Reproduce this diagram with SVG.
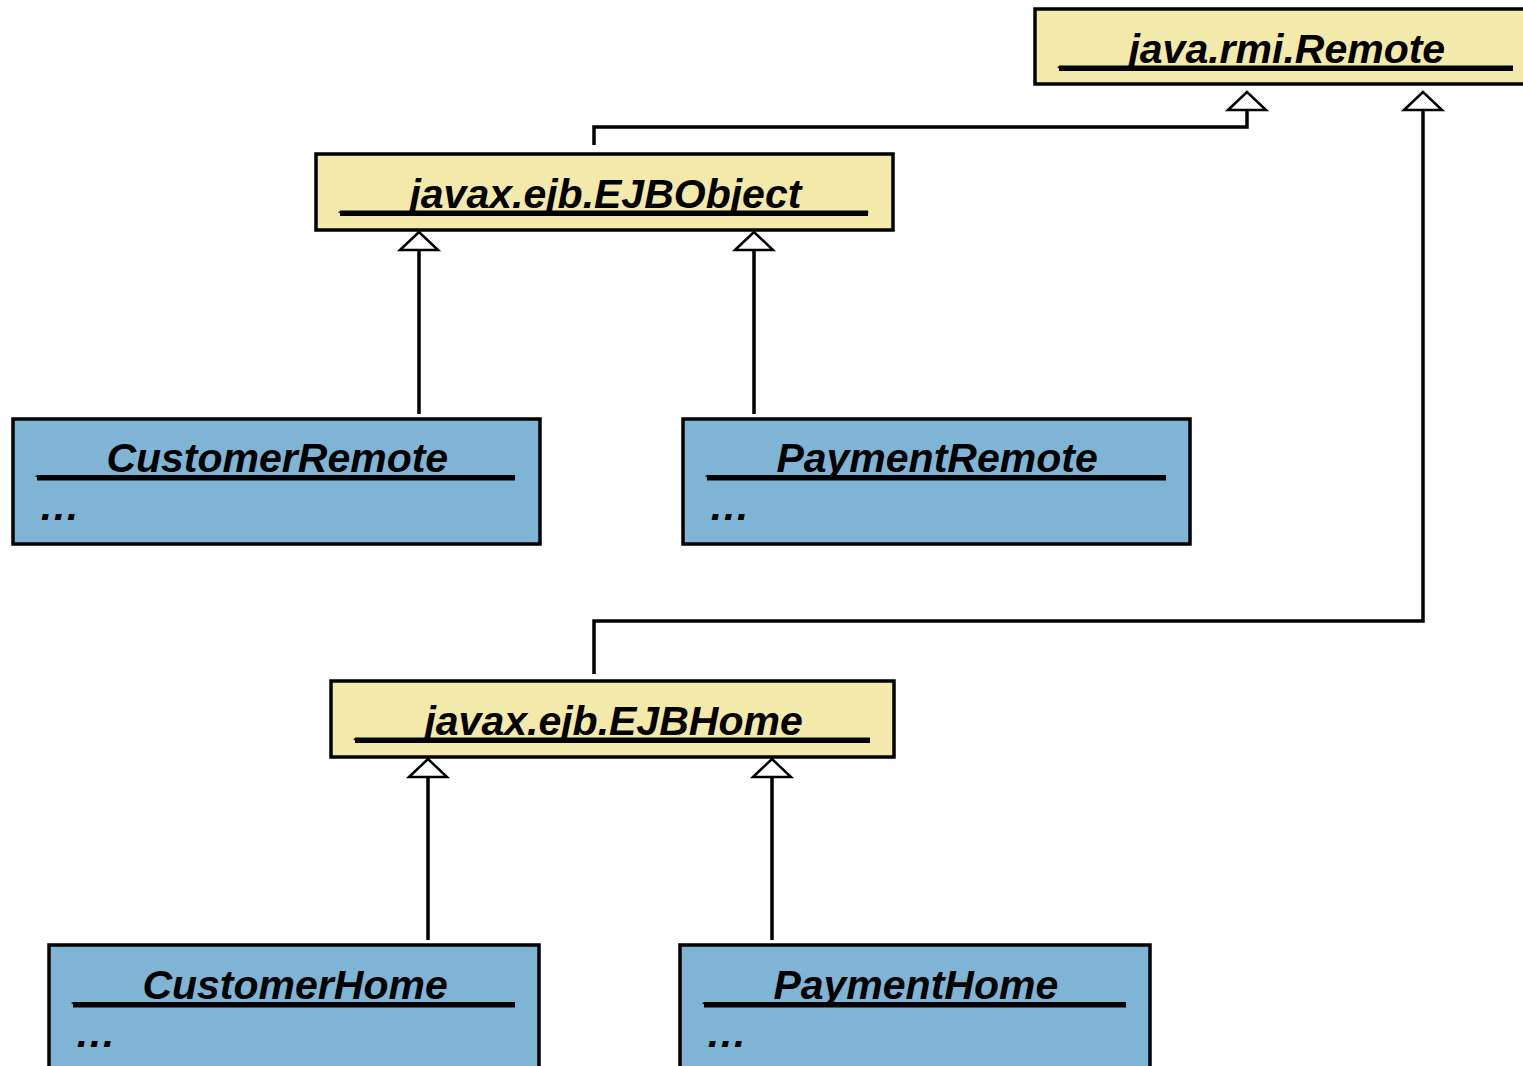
<svg xmlns="http://www.w3.org/2000/svg" width="1523" height="1066" viewBox="0 0 1523 1066">
<defs>
<style>
.box{stroke:#000;stroke-width:3.5}
.iface{fill:#F3E9AB}
.cls{fill:#80B4D4}
.t{font-family:"Liberation Sans",Arial,sans-serif;font-size:41px;font-weight:bold;font-style:italic;fill:#000}
.ul{fill:#000}
.c{fill:none;stroke:#000;stroke-width:3.5}
</style>
<marker id="inh" markerUnits="userSpaceOnUse" viewBox="-2 -2 22 42" refX="18" refY="19" markerWidth="22" markerHeight="42" orient="auto" overflow="visible">
<path d="M0,0 L18,19 L0,38 Z" fill="#fff" stroke="#000" stroke-width="2.5" stroke-linejoin="miter"/>
</marker>
</defs>
<rect width="1523" height="1066" fill="#fff"/>
<g id="connectors">
<path class="c" d="M419,414 V232" marker-end="url(#inh)"/>
<path class="c" d="M754,414 V232" marker-end="url(#inh)"/>
<path class="c" d="M594,145 V127 H1247 V92" marker-end="url(#inh)"/>
<path class="c" d="M594,674 V621 H1423 V92" marker-end="url(#inh)"/>
<path class="c" d="M428,940 V759" marker-end="url(#inh)"/>
<path class="c" d="M772,940 V759" marker-end="url(#inh)"/>
</g>
<g id="java.rmi.Remote">
<rect class="box iface" x="1035" y="9" width="495" height="75"/>
<text class="t" x="1060" y="63">___java.rmi.Remote___</text>
<rect class="ul" x="1059" y="65.5" width="454" height="5.5"/>
</g>
<g id="javax.ejb.EJBObject">
<rect class="box iface" x="316" y="154" width="577" height="76"/>
<text class="t" x="341" y="208">___javax.ejb.EJBObject___</text>
<rect class="ul" x="340" y="210.5" width="528" height="5.5"/>
</g>
<g id="CustomerRemote">
<rect class="box cls" x="13" y="419" width="527" height="125"/>
<text class="t" x="38" y="472">___CustomerRemote___</text>
<rect class="ul" x="37" y="475" width="478" height="5.5"/>
<text class="t" x="39" y="520">…</text>
</g>
<g id="PaymentRemote">
<rect class="box cls" x="683" y="419" width="507" height="125"/>
<text class="t" x="708" y="472">___PaymentRemote___</text>
<rect class="ul" x="707" y="475" width="459" height="5.5"/>
<text class="t" x="709" y="520">…</text>
</g>
<g id="javax.ejb.EJBHome">
<rect class="box iface" x="331" y="681" width="563" height="76"/>
<text class="t" x="356" y="735">___javax.ejb.EJBHome___</text>
<rect class="ul" x="355" y="737.5" width="515" height="5.5"/>
</g>
<g id="CustomerHome">
<rect class="box cls" x="49" y="945" width="490" height="130"/>
<text class="t" x="74" y="999">___CustomerHome___</text>
<rect class="ul" x="73" y="1002" width="442" height="5.5"/>
<text class="t" x="75" y="1047">…</text>
</g>
<g id="PaymentHome">
<rect class="box cls" x="680" y="945" width="470" height="130"/>
<text class="t" x="705" y="999">___PaymentHome___</text>
<rect class="ul" x="704" y="1002" width="422" height="5.5"/>
<text class="t" x="706" y="1047">…</text>
</g>
</svg>
